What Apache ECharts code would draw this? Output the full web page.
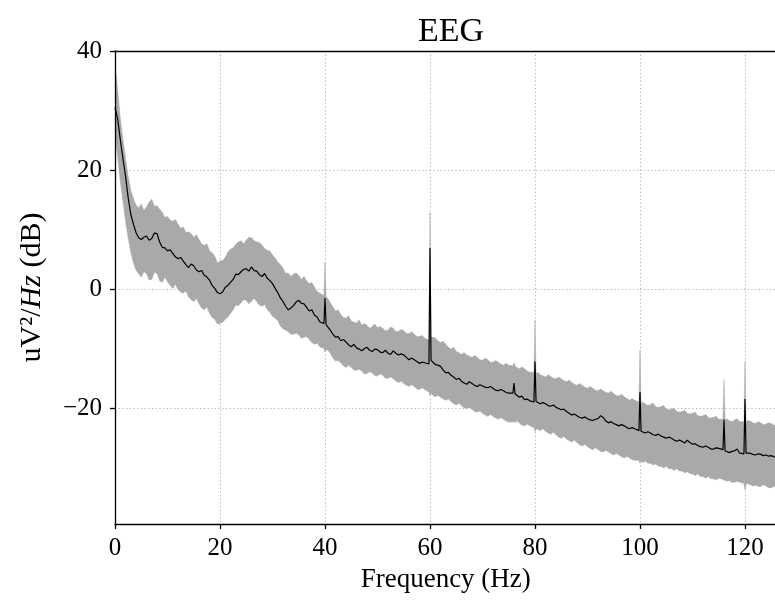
<!DOCTYPE html>
<html><head><meta charset="utf-8">
<script src="https://cdn.jsdelivr.net/npm/echarts@6/dist/echarts.min.js"></script>
<style>html,body{margin:0;padding:0;background:#fff}#c{width:775px;height:600px}</style>
</head><body><div id="c"></div>
<script>
// Frequencies (Hz)
const freqs = [
0,0.25,0.5,1,1.5,2,2.5,3,3.5,4,4.5,
5,5.5,6,6.5,7,7.5,8,8.5,9,9.5,
10,10.5,11,11.5,12,12.5,13,13.5,14,14.5,
15,15.5,16,16.5,17,17.5,18,18.5,19,19.5,
20,20.5,21,21.5,22,22.5,23,23.5,24,24.5,
25,25.5,26,26.5,27,27.5,28,28.5,29,29.5,
30,30.5,31,31.5,32,32.5,33,33.5,34,34.5,
35,35.5,36,36.5,37,37.5,38,38.5,39,39.8,40,40.2,40.5,
41,41.5,42,42.5,43,43.5,44,44.5,45,45.5,
46,46.5,47,47.5,48,48.5,49,49.5,50,50.5,
51,51.5,52,52.5,53,53.5,54,54.5,55,55.5,
56,56.5,57,57.5,58,58.5,59,59.8,60,60.2,60.5,
61,61.5,62,62.5,63,63.5,64,64.5,65,65.5,
66,66.5,67,67.5,68,68.5,69,69.5,70,70.5,
71,71.5,72,72.5,73,73.5,74,74.5,75,75.8,76,76.2,76.5,
77,77.5,78,78.5,79,79.8,80,80.2,80.5,
81,81.5,82,82.5,83,83.5,84,84.5,85,85.5,
86,86.5,87,87.5,88,88.5,89,89.5,90,90.5,
91,91.5,92,92.5,93,93.5,94,94.5,95,95.5,
96,96.5,97,97.5,98,98.5,99,99.8,100,100.2,100.5,
101,101.5,102,102.5,103,103.5,104,104.5,105,105.5,
106,106.5,107,107.5,108,108.5,109,109.5,110,110.5,
111,111.5,112,112.5,113,113.5,114,114.5,115,115.8,116,116.2,116.5,
117,117.5,118,118.5,119,119.8,120,120.2,120.5,
121,121.5,122,122.5,123,123.5,124,124.5,125,125.5,126];
// Mean PSD (dB)
const meanDb = [
30.5,29.6,28.6,25.2,22.0,19.0,15.4,12.6,10.9,9.5,8.6,
8.3,8.7,8.9,8.2,8.5,9.4,9.3,7.9,7.0,6.9,
6.4,6.6,6.0,5.4,5.1,5.3,4.7,4.1,3.6,4.2,
3.9,3.2,2.9,3.1,2.3,2.0,1.5,0.6,0.1,-0.6,
-0.8,-0.5,0.3,0.6,1.1,1.6,2.5,2.4,2.9,3.3,
3.4,3.0,3.7,3.1,3.0,2.4,2.1,2.6,1.8,1.4,
0.9,0.1,-0.6,-1.5,-2.1,-2.9,-3.5,-3.2,-2.8,-2.2,
-1.9,-2.4,-2.5,-3.1,-3.7,-3.5,-4.4,-4.7,-5.5,-5.8,-1.5,-6.0,-6.3,
-6.9,-7.6,-8.1,-8.0,-8.7,-8.5,-8.9,-9.4,-9.7,-9.3,
-9.9,-10.1,-10.4,-10.0,-9.8,-10.3,-10.5,-10.1,-10.2,-10.6,
-10.7,-10.3,-10.8,-11.0,-10.4,-10.8,-11.1,-10.9,-11.1,-11.5,
-11.9,-11.6,-11.9,-12.2,-12.5,-12.3,-12.4,-12.6,6.9,-12.0,-12.3,
-12.7,-12.8,-13.0,-13.6,-14.1,-14.0,-14.5,-14.8,-15.2,-15.0,
-15.5,-15.8,-16.0,-15.6,-15.9,-16.2,-16.4,-16.1,-16.3,-16.5,
-16.6,-16.4,-16.7,-17.0,-17.1,-16.9,-17.1,-17.4,-17.5,-17.5,-15.8,-17.6,-17.8,
-18.2,-18.0,-18.6,-18.5,-18.8,-19.0,-12.2,-18.9,-19.0,
-19.3,-19.1,-19.3,-19.6,-19.7,-19.5,-19.9,-20.1,-20.3,-20.2,
-20.6,-20.9,-21.2,-21.0,-21.3,-21.6,-21.7,-21.5,-21.8,-22.0,
-22.1,-21.9,-21.8,-21.3,-21.6,-22.2,-22.5,-22.3,-22.6,-22.8,
-23.0,-22.8,-23.0,-23.3,-23.5,-23.3,-23.5,-23.8,-17.3,-23.9,-24.0,
-24.2,-24.0,-24.2,-24.5,-24.6,-24.4,-24.7,-24.9,-25.1,-24.9,
-25.1,-25.4,-25.6,-25.4,-25.6,-25.9,-25.4,-25.8,-26.1,-26.0,
-26.3,-26.5,-26.6,-26.4,-26.6,-26.9,-26.9,-26.7,-26.8,-27.0,-22.0,-27.2,-27.3,
-27.5,-27.3,-27.2,-26.9,-27.6,-27.7,-18.5,-27.6,-27.8,
-27.6,-27.8,-27.9,-27.7,-27.8,-28.0,-27.9,-28.1,-28.0,-28.2,-28.3];
// Upper edge of the shaded band (dB)
const upperDb = [
37.0,35.8,33.5,28.8,25.2,22.0,19.0,16.6,15.2,14.1,13.6,
14.3,13.2,13.8,14.6,15.1,13.9,14.0,13.4,12.9,12.0,
12.2,11.6,11.4,11.7,10.9,10.2,10.4,9.5,9.6,9.3,
8.7,9.1,8.3,7.6,7.3,7.6,6.4,6.1,5.5,4.4,
4.7,4.8,5.3,6.2,6.7,6.9,7.5,7.9,8.1,7.6,
8.2,8.7,8.6,8.1,7.9,7.8,7.4,6.8,6.5,6.4,
5.7,5.2,4.5,4.1,3.5,2.6,2.7,2.1,2.5,2.7,
2.3,1.6,2.1,1.4,0.9,1.1,0.3,-0.4,-0.7,-1.1,4.5,-1.3,-1.5,
-2.3,-3.0,-3.7,-3.5,-4.3,-4.8,-4.9,-4.5,-5.4,-5.6,
-5.7,-5.2,-6.1,-5.8,-6.1,-6.6,-6.3,-5.9,-6.5,-6.3,
-6.6,-7.0,-6.9,-6.4,-6.6,-7.2,-7.1,-6.8,-7.0,-7.5,
-7.5,-7.2,-7.6,-8.0,-8.0,-7.8,-8.3,-8.6,12.8,-8.0,-8.1,
-8.2,-8.7,-9.0,-8.8,-9.3,-9.8,-10.1,-9.8,-10.5,-10.7,
-11.0,-10.7,-11.1,-11.3,-11.5,-11.2,-11.5,-11.9,-12.0,-11.6,
-11.9,-12.3,-12.3,-12.0,-12.3,-12.6,-12.8,-12.5,-12.8,-12.9,-12.4,-12.9,-13.2,
-13.4,-13.1,-13.4,-13.8,-14.0,-14.0,-5.2,-14.2,-14.0,
-14.4,-14.6,-14.8,-14.4,-14.7,-15.0,-15.1,-14.8,-15.1,-15.4,
-15.6,-15.3,-15.7,-16.0,-16.2,-15.9,-16.2,-16.5,-16.7,-16.4,
-16.7,-17.0,-17.1,-16.8,-17.1,-17.4,-17.5,-17.2,-17.6,-17.9,
-18.0,-17.7,-18.1,-18.4,-18.7,-18.4,-18.7,-19.0,-10.2,-19.1,-19.0,
-19.3,-19.6,-19.4,-19.2,-19.8,-19.9,-19.8,-19.6,-20.2,-20.3,
-20.2,-20.0,-20.6,-20.7,-20.6,-20.4,-20.9,-21.0,-20.9,-20.7,
-21.3,-21.4,-21.3,-21.1,-21.6,-21.7,-21.6,-21.4,-21.9,-21.9,-15.2,-22.0,-21.8,
-22.1,-22.3,-22.0,-21.8,-22.3,-22.3,-12.2,-22.4,-22.1,
-22.2,-22.5,-22.6,-22.3,-22.5,-22.8,-22.7,-22.5,-22.6,-22.9,-22.9];
// Lower edge of the shaded band (dB)
const lowerDb = [
24.5,24.0,22.3,18.2,14.8,11.4,8.6,6.2,4.4,3.2,2.6,
2.0,2.9,2.6,1.5,1.6,2.8,2.6,1.4,1.1,2.0,
1.2,0.6,0.1,0.8,-0.1,-0.5,-0.7,-0.3,-1.3,-1.8,
-2.1,-1.6,-2.5,-3.2,-3.5,-3.0,-4.1,-4.8,-5.1,-5.9,
-5.8,-5.6,-5.1,-4.7,-4.1,-3.5,-2.7,-2.8,-2.3,-1.8,
-1.9,-2.5,-2.0,-1.6,-2.1,-2.7,-2.9,-2.6,-3.5,-3.9,
-4.6,-4.9,-5.3,-6.2,-6.7,-6.9,-7.2,-7.6,-7.6,-7.4,
-7.7,-8.3,-8.1,-8.0,-8.5,-9.0,-9.3,-9.1,-9.7,-10.0,-10.6,-10.3,-10.2,
-10.8,-11.6,-12.1,-12.0,-12.4,-12.9,-13.2,-12.8,-13.2,-13.6,
-13.7,-13.5,-13.8,-14.3,-14.2,-13.9,-14.1,-14.6,-14.6,-14.3,
-14.5,-15.0,-15.0,-14.8,-15.1,-15.5,-15.7,-15.5,-15.9,-16.2,
-16.4,-16.1,-16.4,-16.8,-16.9,-16.6,-16.9,-17.3,-17.9,-17.6,-17.8,
-18.1,-17.9,-18.2,-18.5,-18.7,-18.5,-18.9,-19.3,-19.5,-19.2,
-19.6,-20.0,-20.1,-19.9,-20.2,-20.6,-20.7,-20.5,-20.9,-21.2,
-21.4,-21.1,-21.4,-21.7,-21.9,-21.6,-21.9,-22.2,-22.4,-22.3,-22.4,-22.4,-22.2,
-22.5,-22.9,-23.0,-22.7,-23.0,-23.3,-24.0,-23.5,-23.6,
-23.8,-23.5,-23.9,-24.2,-24.4,-24.1,-24.5,-24.9,-25.1,-24.8,
-25.2,-25.5,-25.7,-25.4,-25.8,-26.2,-26.4,-26.1,-26.5,-26.8,
-27.0,-26.7,-27.0,-27.3,-27.4,-27.1,-27.4,-27.7,-27.9,-27.6,
-27.9,-28.2,-28.4,-28.1,-28.4,-28.7,-28.8,-28.8,-29.3,-28.9,-29.2,
-28.9,-29.3,-29.3,-29.6,-29.4,-29.8,-29.8,-30.1,-29.8,-30.2,
-30.2,-30.5,-30.2,-30.6,-30.6,-30.9,-30.7,-31.0,-31.1,-31.4,
-31.1,-31.5,-31.5,-31.8,-31.5,-31.9,-31.9,-32.1,-31.8,-32.0,-32.2,-32.1,-32.3,
-32.2,-32.5,-32.5,-32.3,-32.5,-32.7,-33.8,-32.9,-32.7,
-32.9,-33.1,-33.0,-33.2,-33.2,-32.9,-33.1,-33.4,-33.4,-33.2,-33.4];

const xTicks = [0,20,40,60,80,100,120];
const yTicks = [-20,0,20,40];
const titleText = 'EEG';
const xName = 'Frequency (Hz)';

const FONT = '"Liberation Serif", "DejaVu Serif", serif';
const fmt = v => String(v).replace('-', '\u2212');

const chart = echarts.init(document.getElementById('c'), null, {renderer: 'canvas'});
const meanData = freqs.map((f, i) => [f, meanDb[i]]);
const bandData = freqs.map((f, i) => [f, lowerDb[i], upperDb[i]]);

const axisLineStyle = {color: '#000', width: 1.3};
const gridLineStyle = {color: '#b0b0b0', width: 1, type: [1.2, 2.5]};

const option = {
  animation: false,
  backgroundColor: '#fff',
  title: {
    text: titleText, left: 446, top: 10, textAlign: 'center',
    textStyle: {fontFamily: FONT, fontSize: 34, fontWeight: 'normal', color: '#000'}
  },
  grid: {left: 115, top: 51, right: -1.5, bottom: 76, containLabel: false, outerBoundsMode: 'none'},
  xAxis: [{
    type: 'value', min: 0, max: 126, interval: 20, z: 3,
    name: xName, nameLocation: 'middle', nameGap: 42,
    nameTextStyle: {fontFamily: FONT, fontSize: 27, color: '#000'},
    axisLine: {show: true, onZero: false, lineStyle: axisLineStyle},
    axisTick: {show: true, length: 5, lineStyle: axisLineStyle, customValues: xTicks},
    axisLabel: {fontFamily: FONT, fontSize: 25, color: '#000', margin: 12, customValues: xTicks, formatter: fmt},
    splitLine: {show: true, lineStyle: gridLineStyle}
  }, {
    type: 'value', position: 'top', min: 0, max: 126, z: 3,
    axisLine: {show: true, onZero: false, lineStyle: axisLineStyle},
    axisTick: {show: false}, axisLabel: {show: false}, splitLine: {show: false}
  }],
  yAxis: {
    type: 'value', min: -39.5, max: 40, splitNumber: 4, z: 3,
    name: 'uV²/{i|Hz} (dB)', nameLocation: 'middle', nameGap: 68, nameRotate: 90,
    nameTextStyle: {fontFamily: FONT, fontSize: 30, color: '#000',
      rich: {i: {fontFamily: FONT, fontSize: 30, fontStyle: 'italic', color: '#000'}}},
    axisLine: {show: true, onZero: false, lineStyle: axisLineStyle},
    axisTick: {show: true, length: 5, lineStyle: axisLineStyle, customValues: yTicks},
    axisLabel: {fontFamily: FONT, fontSize: 25, color: '#000', margin: 13, customValues: yTicks, formatter: fmt},
    splitLine: {show: true, lineStyle: gridLineStyle}
  },
  series: [{
    type: 'custom', xAxisIndex: 0, yAxisIndex: 0, z: 2, clip: true,
    data: bandData,
    encode: {x: 0, y: [1, 2]},
    renderItem: function (params, api) {
      if (params.dataIndex !== 0) return null;
      const pts = [];
      for (let i = 0; i < freqs.length; i++) pts.push(api.coord([freqs[i], upperDb[i]]));
      for (let i = freqs.length - 1; i >= 0; i--) pts.push(api.coord([freqs[i], lowerDb[i]]));
      return {type: 'polygon', shape: {points: pts},
        style: {fill: '#a9a9a9', stroke: '#a9a9a9', lineWidth: 0.5}};
    }
  }, {
    type: 'line', xAxisIndex: 0, yAxisIndex: 0, z: 5,
    data: meanData, showSymbol: false, symbol: 'none', clip: true,
    lineStyle: {color: '#000', width: 1.2}
  }]
};
chart.setOption(option);
</script>
</body></html>
